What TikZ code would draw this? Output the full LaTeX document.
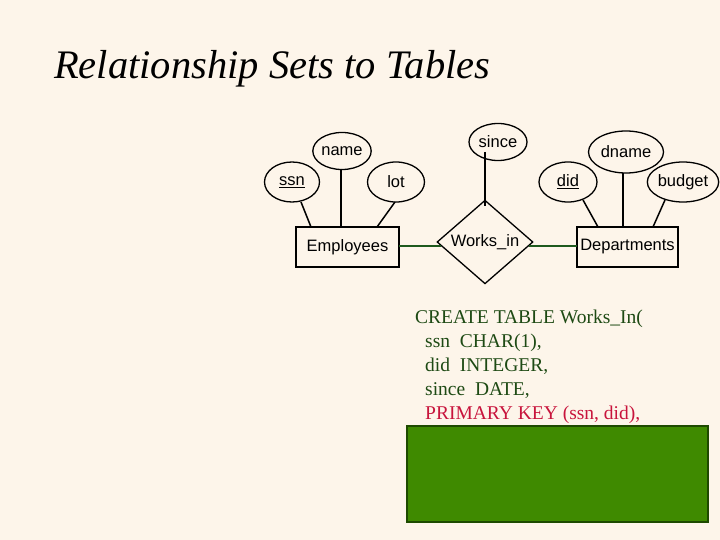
\documentclass[tikz,border=0pt]{standalone}
\usepackage{fontspec}
\setmainfont{Liberation Serif}
\setsansfont{Liberation Sans}
\usetikzlibrary{shapes.geometric}
\definecolor{bg}{HTML}{FDF5EA}
\definecolor{sqlg}{HTML}{1E4A14}
\definecolor{sqlr}{HTML}{C8143C}
\definecolor{boxg}{HTML}{3F8A00}
\definecolor{boxb}{HTML}{1E4A00}
\definecolor{lnk}{HTML}{1E5A1E}
\begin{document}
\begin{tikzpicture}[x=1pt,y=-1pt,
  attr/.style={ellipse,draw,line width=1.3pt,inner sep=0pt,font=\sffamily\fontsize{16.5}{16.5}\selectfont},
  ent/.style={rectangle,draw,line width=1.3pt,inner sep=0pt,font=\sffamily\fontsize{16.5}{16.5}\selectfont},
  rel/.style={diamond,draw,line width=1.3pt,inner sep=0pt,font=\sffamily\fontsize{16.5}{16.5}\selectfont},
  ln/.style={line width=1.5pt},
  sql/.style={anchor=base west,inner sep=0pt,font=\fontsize{19.5}{19.5}\selectfont,text=sqlg}]
\fill[bg] (0,0) rectangle (720,540);
\useasboundingbox (0,0) rectangle (720,540);
\node[anchor=base west,inner sep=0pt,font=\itshape\fontsize{40.5}{40.5}\selectfont] (title) at (54,79) {Relationship Sets to Tables};
\node[attr,minimum width=55,minimum height=40] (ssn) at (292,182) {\underline{ssn}};
\node[attr,minimum width=58,minimum height=37] (name) at (342,151) {name};
\node[attr,minimum width=57,minimum height=40] (lot) at (396,182) {lot};
\node[attr,minimum width=58,minimum height=37] (since) at (498,142) {since};
\node[attr,minimum width=75,minimum height=42] (dname) at (626,152) {dname};
\node[attr,minimum width=58,minimum height=40] (did) at (568,182) {\underline{did}};
\node[attr,minimum width=60,minimum height=40] (budget) at (683,182) {budget};
\node[ent,minimum width=103,minimum height=40] (emp) at (347.5,247) {Employees};
\node[ent,minimum width=101,minimum height=40] (dep) at (627.5,247) {Departments};
\node[rel,minimum width=96,minimum height=71] (works) at (485,242) {Works\_in};
\coordinate (s1) at (301,202); \coordinate (s2) at (311,227);
\coordinate (n1) at (341,169); \coordinate (n2) at (341,227);
\coordinate (l1) at (395,202); \coordinate (l2) at (377,227);
\coordinate (w1) at (485,152); \coordinate (w2) at (485,206.5);
\coordinate (d1) at (583,200); \coordinate (d2) at (598,227);
\coordinate (m1) at (623,173); \coordinate (m2) at (623,227);
\coordinate (b1) at (665,200); \coordinate (b2) at (653,227);
\draw[ln] (s1) -- (s2); \draw[ln] (n1) -- (n2); \draw[ln] (l1) -- (l2);
\draw[ln] (w1) -- (w2); \draw[ln] (d1) -- (d2); \draw[ln] (m1) -- (m2); \draw[ln] (b1) -- (b2);
\coordinate (e1) at (399,246); \coordinate (e2) at (441,246);
\coordinate (f1) at (529,246); \coordinate (f2) at (577,246);
\draw[ln,lnk] (e1) -- (e2);
\draw[ln,lnk] (f1) -- (f2);
\node[sql] (q1) at (415,323) {CREATE TABLE Works\_In(};
\node[sql] (q2) at (425,347) {ssn\ \ CHAR(1),};
\node[sql] (q3) at (425,371) {did\ \ INTEGER,};
\node[sql] (q4) at (425,395) {since\ \ DATE,};
\node[sql,text=sqlr] (q5) at (425,419) {PRIMARY KEY (ssn, did),};
\draw[fill=boxg,draw=boxb,line width=1.5pt] (407,426) rectangle (708,522);
\end{tikzpicture}
\end{document}
